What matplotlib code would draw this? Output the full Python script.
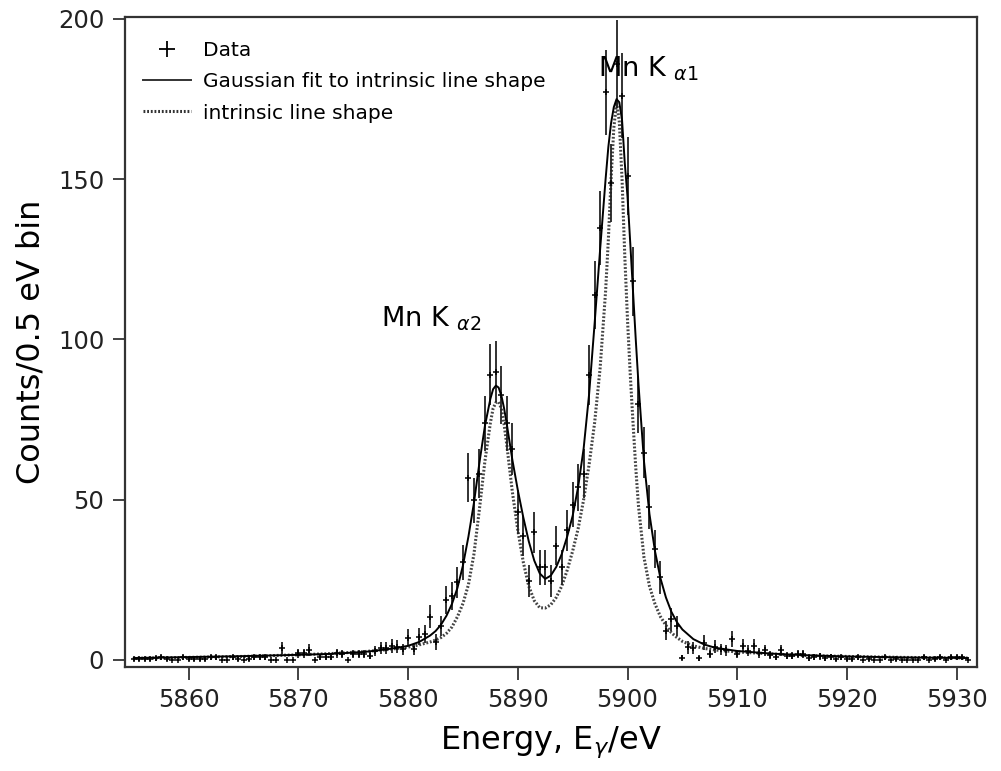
import numpy as np
import matplotlib
matplotlib.use("Agg")
import matplotlib.pyplot as plt
from matplotlib.lines import Line2D

# ---- data (counts per 0.5 eV bin, first bin at 5855 eV) ----
counts = [0.3, 0.3, 0.3, 0.3, 0.6, 0.8, 0.4, 0.0, 0.0, 0.8,
          0.3, 0.3, 0.3, 0.3, 0.8, 0.8, 0.0, 0.0, 0.8, 0.3,
          0.0, 0.3, 0.8, 0.8, 0.8, 0.0, 0.0, 3.6, 0.0, 0.0,
          2.1, 2.1, 3.1, 0.0, 0.8, 0.8, 0.8, 2.1, 1.8, 0.0,
          1.8, 1.8, 1.8, 1.3, 2.8, 3.6, 3.8, 4.4, 4.1, 3.3,
          7.0, 3.3, 7.2, 8.0, 13.5, 5.6, 10.6, 18.7, 20.0, 24.2,
          30.5, 56.9, 49.8, 58.1, 73.8, 89.0, 90.0, 82.6, 73.8, 65.9,
          46.1, 38.8, 24.7, 39.8, 28.9, 28.9, 24.7, 35.7, 28.9, 40.4,
          48.5, 53.9, 58.1, 88.9, 113.9, 134.8, 177.1, 148.9, 185.9, 176.0,
          151.0, 118.1, 79.8, 64.7, 47.7, 34.6, 25.8, 9.1, 12.7, 10.6,
          0.7, 3.9, 3.7, 0.5, 5.4, 1.8, 4.1, 3.3, 3.0, 6.5,
          1.8, 4.5, 2.9, 4.5, 2.2, 3.0, 1.6, 0.8, 3.0, 1.3,
          1.3, 1.8, 1.8, 0.5, 1.0, 1.2, 0.5, 1.0, 0.2, 0.8,
          0.3, 0.3, 0.8, 0.0, 0.3, 0.0, 0.0, 0.8, 0.0, 0.3,
          0.0, 0.0, 0.0, 0.0, 0.8, 0.0, 0.3, 0.8, 0.0, 0.8,
          0.8, 0.8, 0.0]
bin_start = 5855.0
bin_width = 0.5

# ---- curves (fit and intrinsic line shape) ----
curve_e = [5855, 5860, 5865, 5870, 5873, 5876, 5878, 5879, 5880, 5881,
           5882, 5882.5, 5883, 5883.5, 5884, 5884.5, 5885, 5885.5, 5886, 5886.5,
           5887, 5887.5, 5887.75, 5888, 5888.25, 5888.5, 5888.75, 5889, 5889.5, 5890,
           5890.5, 5891, 5891.5, 5892, 5892.5, 5893, 5893.5, 5894, 5894.5, 5895,
           5895.5, 5896, 5896.5, 5897, 5897.5, 5898, 5898.25, 5898.5, 5898.75, 5899,
           5899.25, 5899.5, 5899.75, 5900, 5900.25, 5900.5, 5900.75, 5901, 5901.5, 5902,
           5902.5, 5903, 5903.5, 5904, 5904.5, 5905, 5906, 5907, 5908, 5910,
           5913, 5916, 5920, 5925, 5931]

fit_curve = [0.6, 0.9, 1.2, 1.6, 1.9, 2.5, 3.3, 3.8, 4.4, 5.6,
             7.6, 9.0, 11.0, 13.8, 17.5, 22.5, 29.5, 38.5, 49.0, 61.5,
             73.0, 81.5, 84.5, 85.6, 85.0, 82.5, 78.5, 73.5, 62.5, 53.0,
             44.5, 37.0, 31.0, 27.0, 25.3, 26.3, 29.0, 33.0, 38.5, 45.0,
             54.0, 66.0, 83.0, 105.0, 128.0, 150.0, 160.0, 167.5, 172.5, 175.0,
             174.0, 168.5, 155.0, 144.5, 130.0, 115.0, 100.0, 86.0, 62.0, 45.5,
             34.0, 25.5, 19.5, 15.0, 11.8, 9.5, 6.5, 4.8, 3.8, 2.8,
             2.0, 1.5, 1.1, 0.8, 0.6]

intrinsic_curve = [0.5, 0.8, 1.1, 1.6, 2.0, 2.6, 3.2, 3.6, 4.0, 4.7,
                   5.6, 6.2, 7.0, 8.3, 10.3, 13.5, 17.6, 23.5, 33.0, 47.0,
                   62.0, 74.0, 78.5, 80.3, 80.5, 78.5, 73.5, 67.0, 52.5, 40.5,
                   30.5, 23.0, 18.5, 16.3, 16.2, 17.2, 19.5, 23.0, 28.0, 34.0,
                   41.0, 50.0, 61.0, 74.0, 91.0, 115.0, 131.0, 150.0, 166.0, 174.0,
                   168.0, 150.0, 126.0, 106.0, 89.0, 74.0, 60.0, 48.0, 32.0, 23.0,
                   17.5, 13.5, 10.8, 8.5, 7.0, 5.8, 4.4, 3.6, 3.1, 2.5,
                   1.9, 1.4, 1.1, 0.8, 0.6]

counts = np.array(counts)
energy = bin_start + bin_width * np.arange(len(counts))
# poisson error bars
err = np.sqrt(counts)

fig = plt.figure(figsize=(10.01, 7.71), dpi=100)
ax = fig.add_axes([0.1249, 0.1353, 0.8511, 0.843])

ax.errorbar(energy, counts, yerr=err, fmt='+', color='black', ecolor='#222222',
            elinewidth=1.3, markersize=5, markeredgewidth=1.1, capsize=0, zorder=3)
ax.plot(curve_e, fit_curve, color='black', lw=1.4, zorder=4)
ax.plot(curve_e, intrinsic_curve, color='#444444', lw=2.2,
        linestyle=(0, (0.6, 0.6)), zorder=2)

ax.set_xlim(5854.2, 5931.85)
ax.set_ylim(-2.1, 200.7)
ax.set_xticks(np.arange(5860, 5931, 10))
ax.set_yticks([0, 50, 100, 150, 200])
ax.tick_params(direction='out', length=9, width=1.2, labelsize=17.5, pad=6,
               colors='#222222', top=False, right=False)
for s in ax.spines.values():
    s.set_linewidth(1.6)
    s.set_color('#333333')

ax.set_xlabel('Energy, E$_\\gamma$/eV', fontsize=23, labelpad=9)
ax.set_ylabel('Counts/0.5 eV bin', fontsize=23, labelpad=8)

ax.text(5877.5, 104, 'Mn K $_{\\alpha 2}$', fontsize=19.5)
ax.text(5897.3, 182, 'Mn K $_{\\alpha 1}$', fontsize=19.5)

handles = [Line2D([], [], marker='+', color='black', linestyle='none',
                  markersize=12, markeredgewidth=1.3),
           Line2D([], [], color='#333333', lw=1.4),
           Line2D([], [], color='#333333', lw=2.2, linestyle=(0, (0.6, 0.6)))]
labels = ['Data', 'Gaussian fit to intrinsic line shape', 'intrinsic line shape']
ax.legend(handles, labels, loc='upper left', bbox_to_anchor=(0.0, 0.99),
          frameon=False, fontsize=14.5, handlelength=2.4, handletextpad=0.55,
          labelspacing=0.6, borderaxespad=0.5)

fig.savefig('out.png', dpi=100)
